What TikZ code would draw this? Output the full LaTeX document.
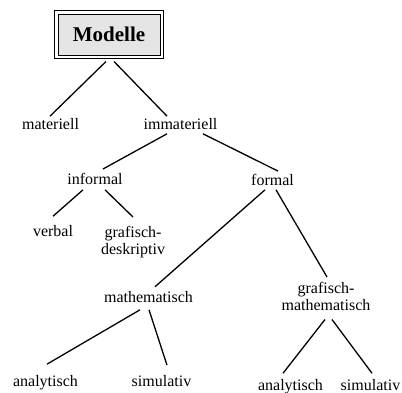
\documentclass[tikz,border=0pt]{standalone}
\usepackage{fontspec}
\setmainfont{Liberation Serif}
\begin{document}
\begin{tikzpicture}[x=0.5pt, y=-0.5pt, line width=0.65pt,
    lbl/.style={anchor=base, inner sep=0pt, font=\fontsize{8}{8.4}\selectfont},
    lbltwo/.style={anchor=north, inner sep=0pt, align=center, font=\fontsize{8}{8.4}\selectfont},
    topbox/.style={draw, double, double distance=1.25pt, line width=0.5pt, fill=gray!20,
      minimum width=52.75pt, minimum height=22.25pt, inner sep=0pt,
      font=\fontsize{10.5}{12}\selectfont\bfseries}]
    \useasboundingbox (0, 0) rectangle (402, 392);

    \node [topbox] (modelle) at (109, 34.5) {Modelle};

    \node [lbl] (materiell) at (50.5, 129.5) {materiell};
    \node [lbl] (immateriell) at (180.5, 129.5) {immateriell};
    \draw ([shift={(-3, 4.25)}]modelle.south) -- ([shift={(-0.5, -1.6)}]materiell.north);
    \draw ([shift={(5, 4.25)}]modelle.south) -- ([shift={(-13.5, -1.6)}]immateriell.north);

    \node [lbl] (informal) at (95, 184.5) {informal};
    \node [lbl] (formal) at (272.5, 185) {formal};
    \draw ([shift={(-13.5, 3.5)}]immateriell.south) -- ([shift={(8, -3.6)}]informal.north);
    \draw ([shift={(22.5, 3.5)}]immateriell.south) -- ([shift={(5.5, -2)}]formal.north);

    % informal
    \node [lbl] (verbal) at (53, 236) {verbal};
    \node [lbltwo] (grafdeskr) at (133, 226) {grafisch-\\deskriptiv};
    \draw ([shift={(-12, 4.5)}]informal.south) -- ([shift={(0, -8)}]verbal.north);
    \draw ([shift={(10, 4.5)}]informal.south) -- ([shift={(0, -9)}]grafdeskr.north);

    % formal
    \node [lbl] (mathem) at (148.5, 302.5) {mathematisch};
    \node [lbltwo] (grafmath) at (326, 282) {grafisch-\\mathematisch};
    \draw ([shift={(-7.5, 4)}]formal.south) -- ([shift={(6.5, -4)}]mathem.north);
    \draw ([shift={(3.5, 4)}]formal.south) -- ([shift={(1, -5)}]grafmath.north);

    \node [lbl] (analytA) at (45.5, 386.5) {analytisch};
    \node [lbl] (simulA) at (161.5, 386.5) {simulativ};
    \draw ([shift={(-8.5, 6.5)}]mathem.south) -- ([shift={(1.5, -10.6)}]analytA.north);
    \draw ([shift={(0.5, 6.5)}]mathem.south) -- ([shift={(5.5, -9.6)}]simulA.north);

    \node [lbl] (analytB) at (290.5, 390) {analytisch};
    \node [lbl] (simulB) at (370.5, 390) {simulativ};
    \draw ([shift={(-1, 8)}]grafmath.south) -- ([shift={(-7.5, -5)}]analytB.north);
    \draw ([shift={(6, 8)}]grafmath.south) -- ([shift={(1.5, -5)}]simulB.north);
\end{tikzpicture}
\end{document}
